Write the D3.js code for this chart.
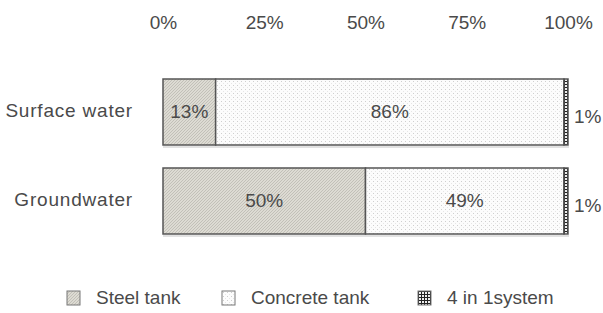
<!DOCTYPE html>
<html lang="en">
  <head>
    <meta charset="utf-8">
    <title>Tank types</title>
    <script type="text/javascript" src="https://cdn.jsdelivr.net/npm/d3@7"></script>
<style>
body { margin: 0; background: #fff; }
text { font-family: "Liberation Sans", Arial, sans-serif; fill: #4a4a4a; }
</style>
  </head>
  <body>
    <script type="text/javascript">
      // data
      var categories = ["Surface water", "Groundwater"];
      var seriesNames = ["Steel tank", "Concrete tank", "4 in 1system"];
      var steel = [13, 50];
      var concrete = [86, 49];
      var fourInOne = [1, 1];
      var tickValues = [0, 25, 50, 75, 100];

      var width = 603, height = 313;
      var svg = d3.select("body").append("svg")
        .attr("width", width)
        .attr("height", height);

      var defs = svg.append("defs");
      // steel: fine grey diagonal texture
      var p1 = defs.append("pattern").attr("id", "pSteel")
        .attr("patternUnits", "userSpaceOnUse").attr("width", 3).attr("height", 3);
      p1.append("rect").attr("width", 3).attr("height", 3).attr("fill", "#dddbd3");
      [[0, 2], [1, 1], [2, 0]].forEach(function(p) {
        p1.append("rect").attr("x", p[0]).attr("y", p[1]).attr("width", 1).attr("height", 1).attr("fill", "#c2c0b8");
      });
      // concrete: white with sparse dots
      var p2 = defs.append("pattern").attr("id", "pConcrete")
        .attr("patternUnits", "userSpaceOnUse").attr("width", 4).attr("height", 4);
      p2.append("rect").attr("width", 4).attr("height", 4).attr("fill", "#fcfcfc");
      p2.append("rect").attr("x", 1).attr("y", 1).attr("width", 1).attr("height", 1).attr("fill", "#cfcfcf");
      p2.append("rect").attr("x", 3).attr("y", 3).attr("width", 1).attr("height", 1).attr("fill", "#e6e6e6");
      // 4 in 1: dark grid
      var p3 = defs.append("pattern").attr("id", "pGrid")
        .attr("patternUnits", "userSpaceOnUse").attr("width", 3).attr("height", 3);
      p3.append("rect").attr("width", 3).attr("height", 3).attr("fill", "#222");
      p3.append("rect").attr("x", 1).attr("y", 1).attr("width", 2).attr("height", 2).attr("fill", "#eee");
      var fills = ["url(#pSteel)", "url(#pConcrete)", "url(#pGrid)"];

      var x = d3.scaleLinear().domain([0, 100]).range([163, 568]);
      var y = d3.scaleBand().domain(categories).range([79, 234]).paddingInner(0.2584).paddingOuter(0);

      // top axis labels only
      var axis = d3.axisTop(x).tickValues(tickValues)
        .tickFormat(function(d) { return d + "%"; }).tickSize(0).tickPadding(0);
      var gAxis = svg.append("g").attr("transform", "translate(0,29)").call(axis);
      gAxis.select(".domain").remove();
      gAxis.selectAll("text").attr("font-size", "19px").attr("fill", "#4a4a4a")
        .attr("font-family", "Liberation Sans, Arial, sans-serif").attr("dy", 0);

      // category labels
      svg.selectAll("text.cat")
        .data(categories)
        .enter()
        .append("text")
        .attr("class", "cat")
        .attr("x", 133)
        .attr("y", function(d) { return y(d) + y.bandwidth() / 2 + 5; })
        .attr("text-anchor", "end")
        .attr("font-size", "19px")
        .attr("letter-spacing", "0.8px")
        .text(function(d) { return d; });

      // stack the rows
      var rows = categories.map(function(c, i) {
        return { cat: c, vals: [steel[i], concrete[i], fourInOne[i]] };
      });
      var segs = [];
      rows.forEach(function(r) {
        var acc = 0;
        r.vals.forEach(function(v, k) {
          segs.push({ cat: r.cat, k: k, x0: acc, x1: acc + v, v: v });
          acc += v;
        });
      });

      // soft shadow under each bar
      svg.selectAll("rect.shadow")
        .data(categories)
        .enter()
        .append("rect")
        .attr("x", x(0))
        .attr("y", function(d) { return y(d) + y.bandwidth() + 1; })
        .attr("width", x(100) - x(0) + 1)
        .attr("height", 2)
        .attr("fill", "#e2e2e2");

      svg.selectAll("rect.seg")
        .data(segs)
        .enter()
        .append("rect")
        .attr("class", "seg")
        .attr("x", function(d) { return x(d.x0); })
        .attr("y", function(d) { return y(d.cat); })
        .attr("width", function(d) { return x(d.x1) - x(d.x0); })
        .attr("height", y.bandwidth())
        .attr("fill", function(d) { return fills[d.k]; })
        .attr("stroke", "#555")
        .attr("stroke-width", 1.5);

      // value labels
      svg.selectAll("text.val")
        .data(segs)
        .enter()
        .append("text")
        .attr("class", "val")
        .attr("x", function(d) { return d.k === 2 ? x(d.x1) + 6 : x((d.x0 + d.x1) / 2); })
        .attr("y", function(d) { return y(d.cat) + y.bandwidth() / 2 + (d.k === 2 ? 11 : 6); })
        .attr("text-anchor", function(d) { return d.k === 2 ? "start" : "middle"; })
        .attr("font-size", "19px")
        .text(function(d) { return d.v + "%"; });

      // legend
      var legendX = [67, 222, 418];
      var lg = svg.selectAll("g.leg")
        .data(seriesNames)
        .enter()
        .append("g")
        .attr("transform", function(d, i) { return "translate(" + legendX[i] + ",291)"; });
      lg.append("rect")
        .attr("width", 13).attr("height", 14)
        .attr("fill", function(d, i) { return fills[i]; })
        .attr("stroke", "#777").attr("stroke-width", 1);
      lg.append("text")
        .attr("x", 29).attr("y", 13)
        .attr("font-size", "19px")
        .text(function(d) { return d; });
    </script>
  </body>
</html>
